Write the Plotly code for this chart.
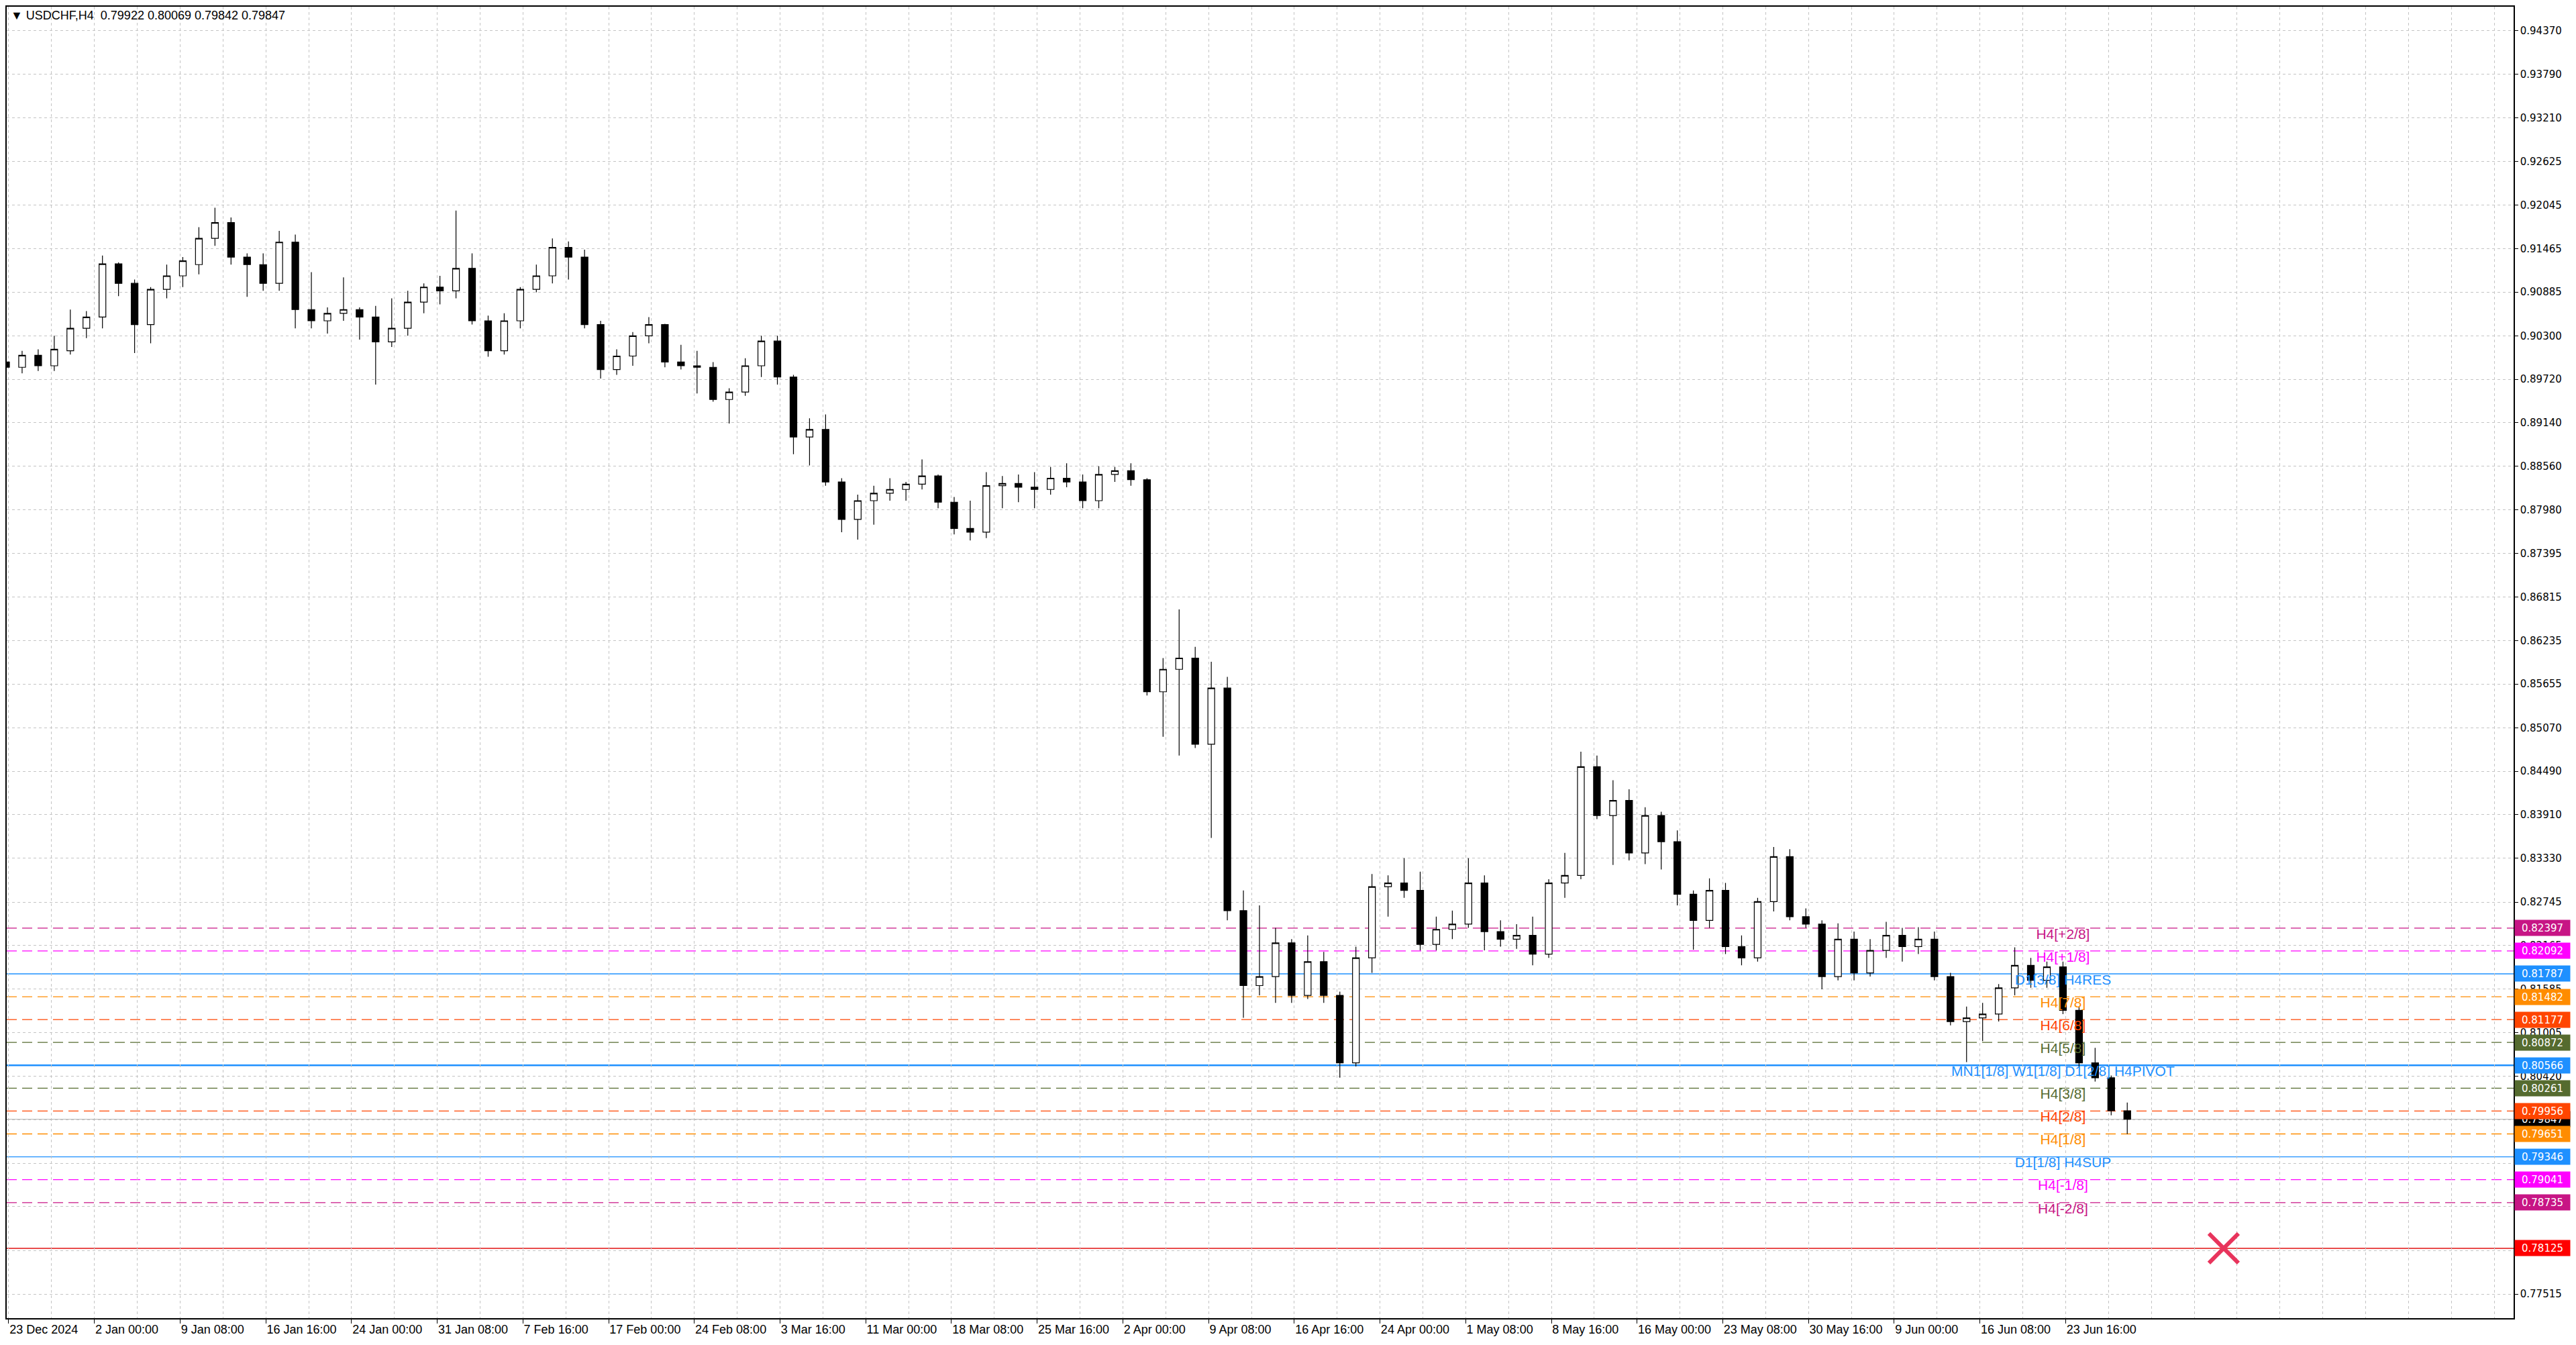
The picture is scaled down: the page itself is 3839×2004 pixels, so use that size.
import plotly.graph_objects as go

# USDCHF H4 (MT4 screenshot) - OHLC per trading day
day_open = [
    0.8995, 0.8988, 0.9004, 0.8990, 0.9010, 0.9040, 0.9055, 0.9126, 0.9100, 0.9045,
    0.9092, 0.9110, 0.9125, 0.9160, 0.9181, 0.9135, 0.9125, 0.9100, 0.9155, 0.9065,
    0.9050, 0.9060, 0.9065, 0.9055, 0.9022, 0.9040, 0.9075, 0.9095, 0.9090, 0.9120,
    0.9050, 0.9010, 0.9050, 0.9092, 0.9110, 0.9148, 0.9135, 0.9045, 0.8985, 0.9003,
    0.9030, 0.9045, 0.8995, 0.8990, 0.8988, 0.8945, 0.8955, 0.8990, 0.9023, 0.8975,
    0.8895, 0.8905, 0.8835, 0.8785, 0.8810, 0.8820, 0.8825, 0.8832, 0.8843, 0.8808,
    0.8773, 0.8768, 0.8830, 0.8833, 0.8828, 0.8825, 0.8840, 0.8835, 0.8810, 0.8845,
    0.8850, 0.8838, 0.8555, 0.8585, 0.8600, 0.8485, 0.8560, 0.8263, 0.8163, 0.8175,
    0.8220, 0.8150, 0.8195, 0.8150, 0.8060, 0.8200, 0.8295, 0.8300, 0.8290, 0.8218,
    0.8238, 0.8245, 0.8300, 0.8235, 0.8225, 0.8230, 0.8205, 0.8300, 0.8310, 0.8455,
    0.8390, 0.8410, 0.8340, 0.8390, 0.8355, 0.8285, 0.8250, 0.8290, 0.8215, 0.8200,
    0.8275, 0.8335, 0.8255, 0.8245, 0.8175, 0.8225, 0.8180, 0.8210, 0.8230, 0.8215,
    0.8225, 0.8175, 0.8115, 0.8120, 0.8125, 0.8160, 0.8190, 0.8170, 0.8188, 0.8130,
    0.8060, 0.8040, 0.7996,
]
day_high = [
    0.9005, 0.9010, 0.9012, 0.9030, 0.9065, 0.9063, 0.9137, 0.9128, 0.9105, 0.9095,
    0.9125, 0.9135, 0.9175, 0.9201, 0.9188, 0.9140, 0.9140, 0.9170, 0.9165, 0.9115,
    0.9068, 0.9108, 0.9068, 0.9070, 0.9080, 0.9090, 0.9100, 0.9110, 0.9197, 0.9140,
    0.9057, 0.9060, 0.9095, 0.9125, 0.9160, 0.9156, 0.9145, 0.9050, 0.9012, 0.9035,
    0.9055, 0.9046, 0.9018, 0.9010, 0.8995, 0.8960, 0.9000, 0.9030, 0.9030, 0.8978,
    0.8920, 0.8925, 0.8840, 0.8818, 0.8830, 0.8840, 0.8835, 0.8865, 0.8845, 0.8815,
    0.8810, 0.8848, 0.8843, 0.8845, 0.8848, 0.8855, 0.8860, 0.8845, 0.8856, 0.8855,
    0.8860, 0.8840, 0.8600, 0.8665, 0.8615, 0.8595, 0.8575, 0.8290, 0.8270, 0.8240,
    0.8225, 0.8230, 0.8208, 0.8155, 0.8215, 0.8312, 0.8310, 0.8333, 0.8315, 0.8255,
    0.8263, 0.8333, 0.8310, 0.8250, 0.8245, 0.8255, 0.8305, 0.8340, 0.8475, 0.8470,
    0.8437, 0.8425, 0.8401, 0.8395, 0.8370, 0.8290, 0.8306, 0.8300, 0.8230, 0.8280,
    0.8348, 0.8345, 0.8266, 0.8250, 0.8246, 0.8235, 0.8225, 0.8248, 0.8240, 0.8241,
    0.8235, 0.8180, 0.8135, 0.8140, 0.8165, 0.8214, 0.8200, 0.8195, 0.8195, 0.8135,
    0.8080, 0.8043, 0.80069,
]
day_low = [
    0.8972, 0.8980, 0.8983, 0.8983, 0.9005, 0.9027, 0.9040, 0.9083, 0.9007, 0.9020,
    0.9080, 0.9095, 0.9112, 0.9150, 0.9125, 0.9082, 0.9090, 0.9090, 0.9040, 0.9040,
    0.9033, 0.9050, 0.9025, 0.8965, 0.9015, 0.9030, 0.9060, 0.9072, 0.9080, 0.9045,
    0.9002, 0.9005, 0.9040, 0.9088, 0.9100, 0.9105, 0.9040, 0.8973, 0.8978, 0.8990,
    0.9020, 0.8988, 0.8985, 0.8953, 0.8942, 0.8913, 0.8950, 0.8975, 0.8965, 0.8872,
    0.8857, 0.8830, 0.8768, 0.8758, 0.8778, 0.8810, 0.8810, 0.8825, 0.8800, 0.8765,
    0.8757, 0.8760, 0.8800, 0.8808, 0.8800, 0.8818, 0.8828, 0.8800, 0.8800, 0.8835,
    0.8830, 0.8550, 0.8495, 0.8470, 0.8480, 0.8360, 0.8250, 0.8120, 0.8150, 0.8140,
    0.8140, 0.8145, 0.8140, 0.8040, 0.8055, 0.8180, 0.8255, 0.8280, 0.8210, 0.8210,
    0.8225, 0.8240, 0.8210, 0.8215, 0.8212, 0.8190, 0.8200, 0.8280, 0.8305, 0.8385,
    0.8324, 0.8330, 0.8325, 0.8318, 0.8270, 0.8211, 0.8240, 0.8205, 0.8190, 0.8195,
    0.8262, 0.8250, 0.8240, 0.8158, 0.8170, 0.8170, 0.8175, 0.8200, 0.8195, 0.8205,
    0.8170, 0.8110, 0.8061, 0.8089, 0.8115, 0.8150, 0.8160, 0.8160, 0.8125, 0.8055,
    0.8035, 0.7990, 0.79650,
]
day_close = [
    0.8988, 0.9004, 0.8990, 0.9012, 0.9040, 0.9055, 0.9126, 0.9100, 0.9045, 0.9092,
    0.9110, 0.9130, 0.9160, 0.9181, 0.9135, 0.9125, 0.9100, 0.9155, 0.9065, 0.9050,
    0.9060, 0.9065, 0.9055, 0.9022, 0.9040, 0.9075, 0.9095, 0.9090, 0.9120, 0.9050,
    0.9010, 0.9050, 0.9092, 0.9110, 0.9148, 0.9135, 0.9045, 0.8985, 0.9003, 0.9030,
    0.9045, 0.8995, 0.8990, 0.8988, 0.8945, 0.8955, 0.8990, 0.9023, 0.8975, 0.8895,
    0.8905, 0.8835, 0.8785, 0.8810, 0.8820, 0.8825, 0.8832, 0.8843, 0.8808, 0.8773,
    0.8768, 0.8830, 0.8833, 0.8828, 0.8825, 0.8840, 0.8835, 0.8810, 0.8845, 0.8850,
    0.8838, 0.8555, 0.8585, 0.8600, 0.8485, 0.8560, 0.8263, 0.8163, 0.8175, 0.8220,
    0.8150, 0.8195, 0.8150, 0.8060, 0.8200, 0.8295, 0.8300, 0.8290, 0.8218, 0.8238,
    0.8245, 0.8300, 0.8235, 0.8225, 0.8230, 0.8205, 0.8300, 0.8310, 0.8455, 0.8390,
    0.8410, 0.8340, 0.8390, 0.8355, 0.8285, 0.8250, 0.8290, 0.8215, 0.8200, 0.8275,
    0.8335, 0.8255, 0.8245, 0.8175, 0.8225, 0.8180, 0.8210, 0.8230, 0.8215, 0.8225,
    0.8175, 0.8115, 0.8120, 0.8125, 0.8160, 0.8190, 0.8170, 0.8188, 0.8130, 0.8060,
    0.8040, 0.7996, 0.79847,
]

# time axis labels (one every 32 H4 bars)
x_labels = [
    "23 Dec 2024", "2 Jan 00:00", "9 Jan 08:00", "16 Jan 16:00", "24 Jan 00:00",
    "31 Jan 08:00", "7 Feb 16:00", "17 Feb 00:00", "24 Feb 08:00", "3 Mar 16:00",
    "11 Mar 00:00", "18 Mar 08:00", "25 Mar 16:00", "2 Apr 00:00", "9 Apr 08:00",
    "16 Apr 16:00", "24 Apr 00:00", "1 May 08:00", "8 May 16:00", "16 May 00:00",
    "23 May 08:00", "30 May 16:00", "9 Jun 00:00", "16 Jun 08:00", "23 Jun 16:00",
]
y_ticks = [
    0.94370, 0.93790, 0.93210, 0.92625, 0.92045, 0.91465, 0.90885, 0.90300,
    0.89720, 0.89140, 0.88560, 0.87980, 0.87395, 0.86815, 0.86235, 0.85655,
    0.85070, 0.84490, 0.83910, 0.83330, 0.82745, 0.82165, 0.81585, 0.81005,
    0.80420, 0.79840, 0.79260, 0.78680, 0.78095, 0.77515,
]
# these scale values are fully covered by price tags in the terminal
covered_ticks = [0.79840, 0.79260, 0.78680, 0.78095]

# Murrey math levels drawn by the indicator
level_prices = [0.82397, 0.82092, 0.81787, 0.81482, 0.81177, 0.80872, 0.80566,
                0.80261, 0.79956, 0.79651, 0.79346, 0.79041, 0.78735]
level_names = ["H4[+2/8]", "H4[+1/8]", "D1[3/8] H4RES", "H4[7/8]", "H4[6/8]",
               "H4[5/8]", "MN1[1/8] W1[1/8] D1[2/8] H4PIVOT", "H4[3/8]",
               "H4[2/8]", "H4[1/8]", "D1[1/8] H4SUP", "H4[-1/8]", "H4[-2/8]"]
last_bar = [0.79922, 0.80069, 0.79842, 0.79847]
stop_price = 0.78125
stop_bar = 827

# styles
VIOLET, MAGENTA, BLUE = "#C71585", "#FF00FF", "#1E90FF"
ORANGE, ORED, OLIVE = "#FF8C00", "#FF4500", "#556B2F"
level_colors = [VIOLET, MAGENTA, BLUE, ORANGE, ORED, OLIVE, BLUE,
                OLIVE, ORED, ORANGE, BLUE, MAGENTA, VIOLET]
label_bar = 767          # where the level names are centred
BARS_PER_DAY = 6
BARS_PER_LABEL = 32
GRID = "#C4C4C4"
AXIS_FONT = "Liberation Sans"
PRICE_FONT = "DejaVu Sans"

bar_x = [BARS_PER_DAY * i - 1 for i in range(len(day_close))]

fig = go.Figure()

# level names sit under the candles, like in the terminal
fig.add_trace(go.Scatter(
    x=[label_bar] * len(level_prices), y=level_prices,
    mode="text", text=level_names, textposition="bottom center",
    textfont=dict(family=AXIS_FONT, size=21, color=level_colors),
    showlegend=False, hoverinfo="skip",
))

fig.add_trace(go.Candlestick(
    x=bar_x, open=day_open, high=day_high, low=day_low, close=day_close,
    increasing=dict(line=dict(color="black", width=1.2), fillcolor="white"),
    decreasing=dict(line=dict(color="black", width=1.2), fillcolor="black"),
    showlegend=False, hoverinfo="skip",
))

fig.add_trace(go.Scatter(
    x=[stop_bar], y=[stop_price], mode="markers",
    marker=dict(symbol="x-thin", size=44,
                line=dict(width=6, color="#E8345C")),
    showlegend=False, hoverinfo="skip",
))

shapes = []
for p, c in zip(level_prices, level_colors):
    if c == BLUE:
        w = 2.5 if p == 0.80566 else 1.3
        dash = "solid"
    else:
        w, dash = 1.3, "15px,8px"
    shapes.append(dict(type="line", xref="paper", x0=0, x1=1, y0=p, y1=p,
                       layer="below", line=dict(color=c, width=w, dash=dash)))
shapes.append(dict(type="line", xref="paper", x0=0, x1=1,
                   y0=last_bar[3], y1=last_bar[3], layer="below",
                   line=dict(color="#C0C0C0", width=1.2)))
shapes.append(dict(type="line", xref="paper", x0=0, x1=1,
                   y0=stop_price, y1=stop_price, layer="below",
                   line=dict(color="#E01010", width=1.5)))

annotations = []
# price tags on the right scale: current price first, the rest on top of it
tags = [(last_bar[3], "black")] + list(zip(level_prices, level_colors)) + [(stop_price, "#FF0000")]
for p, c in tags:
    annotations.append(dict(
        xref="paper", x=1, xanchor="left", xshift=1, yref="y", y=p,
        text=f"{p:.5f}", showarrow=False, bgcolor=c, width=80, height=21,
        font=dict(family=PRICE_FONT, size=15, color="white"),
    ))
annotations.append(dict(
    xref="paper", yref="paper", x=0, y=1, xanchor="left", yanchor="top",
    xshift=4, yshift=-1, showarrow=False,
    text="▼ USDCHF,H4  " + " ".join(f"{v:.5f}" for v in last_bar),
    font=dict(family=AXIS_FONT, size=18, color="black"),
))

fig.update_layout(
    paper_bgcolor="white", plot_bgcolor="white",
    margin=dict(l=0, r=85, t=2, b=32),
    boxgap=0.4,
    shapes=shapes, annotations=annotations,
    xaxis=dict(
        range=[-0.75, 935.25], rangeslider=dict(visible=False),
        tickvals=[BARS_PER_LABEL * k for k in range(len(x_labels))],
        ticktext=x_labels, ticklabelposition="outside right",
        ticks="outside", ticklen=6, tickcolor="black",
        tickfont=dict(family=AXIS_FONT, size=18, color="black"),
        showgrid=True, gridcolor=GRID, griddash="4px,4px", gridwidth=1,
        minor=dict(dtick=BARS_PER_LABEL // 2, tick0=0, showgrid=True,
                   gridcolor=GRID, griddash="4px,4px", ticks=""),
        showline=True, linecolor="black", linewidth=1.5, mirror=True,
        zeroline=False,
    ),
    yaxis=dict(
        side="right", range=[0.77193, 0.94691],
        tickvals=y_ticks,
        ticktext=["" if v in covered_ticks else f"{v:.5f}" for v in y_ticks],
        ticks="outside", ticklen=5, tickcolor="black",
        tickfont=dict(family=PRICE_FONT, size=15, color="black"),
        showgrid=True, gridcolor=GRID, griddash="4px,4px", gridwidth=1,
        showline=True, linecolor="black", linewidth=1.5, mirror=True,
        zeroline=False,
    ),
)

fig.write_html("out.html")
